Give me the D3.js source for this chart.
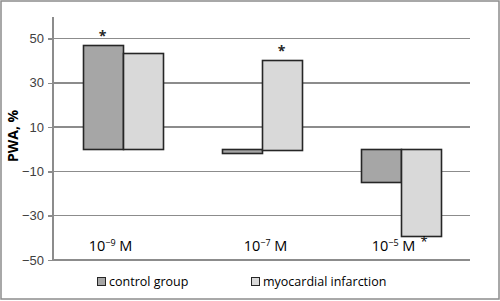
<!DOCTYPE html>
<html>
<meta charset="utf-8">
<style>

body {
  margin: 0;
  font-family: "Open Sans", sans-serif;
}

.grid line {
  stroke: #8c8c8c;
  stroke-width: 1.5px;
  shape-rendering: crispEdges;
}

.axis path,
.axis line {
  fill: none;
  stroke: #8c8c8c;
  stroke-width: 1.5px;
  shape-rendering: crispEdges;
}

.axis text {
  font-size: 13px;
  fill: #404040;
}

.bar {
  stroke: #262626;
  stroke-width: 1.6px;
}

</style>
<body>
<script src="https://d3js.org/d3.v7.min.js"></script>
<script>

var categories = ["10", "10", "10"],
    exponents = ["\u22129", "\u22127", "\u22125"],
    labelShift = [-12, 4, -7],
    series = ["control group", "myocardial infarction"],
    control = [47, -2, -15],
    infarction = [43.5, 40.5, -39.5],
    stars = [[0, 0], [1, 1]],
    yTicks = [-50, -30, -10, 10, 30, 50],
    colors = ["#a6a6a6", "#d9d9d9"];

var width = 500,
    height = 301,
    margin = {top: 38.5, right: 30, bottom: 41, left: 53};

var svg = d3.select("body").append("svg")
    .attr("width", width)
    .attr("height", height);

svg.append("rect")
    .attr("x", 1)
    .attr("y", 1)
    .attr("width", width - 2)
    .attr("height", height - 3)
    .attr("fill", "#fff")
    .attr("stroke", "#8c8c8c")
    .attr("stroke-width", 1.5);

var x = d3.scaleBand()
    .domain(d3.range(categories.length))
    .range([margin.left, width - margin.right]);

var x1 = d3.scaleBand()
    .domain(d3.range(series.length))
    .range([0, x.bandwidth()])
    .paddingOuter(0.74);

var y = d3.scaleLinear()
    .domain([-50, 50])
    .range([height - margin.bottom, margin.top]);

svg.append("g")
    .attr("class", "grid")
  .selectAll("line")
  .data(yTicks.slice(1))
  .join("line")
    .attr("x1", margin.left)
    .attr("x2", width - margin.right)
    .attr("y1", d => y(d))
    .attr("y2", d => y(d));

var yAxis = d3.axisLeft(y)
    .tickValues(yTicks)
    .tickSize(5)
    .tickPadding(4);

svg.append("g")
    .attr("class", "axis")
    .attr("transform", "translate(" + margin.left + ",0)")
    .call(yAxis)
    .call(g => g.select(".domain").attr("d", "M0," + (margin.top - 22) + "V" + y(-50)));

svg.append("line")
    .attr("x1", margin.left)
    .attr("x2", width - margin.right)
    .attr("y1", y(-50))
    .attr("y2", y(-50))
    .attr("stroke", "#8c8c8c")
    .attr("stroke-width", 1.5)
    .attr("shape-rendering", "crispEdges");

var data = [control, infarction];

svg.append("g")
  .selectAll("g")
  .data(data)
  .join("g")
    .attr("fill", (d, i) => colors[i])
    .each(function(vals, s) {
      d3.select(this).selectAll("rect")
        .data(vals)
        .join("rect")
          .attr("class", "bar")
          .attr("x", (d, i) => Math.round(x(i) + x1(s)) + 0.5)
          .attr("width", Math.round(x1.bandwidth()))
          .attr("y", d => Math.round(y(Math.max(0, d))) + 0.5)
          .attr("height", d => Math.round(Math.abs(y(d) - y(0))));
    });

svg.append("g")
  .selectAll("text")
  .data(stars)
  .join("text")
    .attr("x", d => x(d[0]) + x1(d[1]) + x1.bandwidth() / 2)
    .attr("y", d => y(data[d[1]][d[0]]) - 4)
    .attr("text-anchor", "middle")
    .attr("font-size", 14)
    .attr("font-weight", "bold")
    .attr("fill", "#262626")
    .text("*");

var labels = svg.append("g")
  .selectAll("text")
  .data(categories)
  .join("text")
    .attr("x", (d, i) => x(i) + x.bandwidth() / 2 + labelShift[i])
    .attr("y", 251)
    .attr("text-anchor", "middle")
    .attr("font-size", 14.5)
    .attr("fill", "#000");

labels.append("tspan").text(d => d);
labels.append("tspan")
    .attr("dy", -5)
    .attr("font-size", 9)
    .text((d, i) => exponents[i]);
labels.append("tspan")
    .attr("dy", 5)
    .text(" M");

// asterisk after the last dose label
svg.append("text")
    .attr("x", x(2) + x.bandwidth() / 2 + labelShift[2] + 27)
    .attr("y", 246)
    .attr("font-size", 13)
    .attr("fill", "#000")
    .text("*");

svg.append("text")
    .attr("transform", "translate(18," + 136 + ") rotate(-90)")
    .attr("text-anchor", "middle")
    .attr("font-size", 14)
    .attr("font-weight", "bold")
    .attr("fill", "#000")
    .text("PWA, %");

var legendX = [97, 251];

var legend = svg.append("g")
  .selectAll("g")
  .data(series)
  .join("g")
    .attr("transform", (d, i) => "translate(" + legendX[i] + ",277)");

legend.append("rect")
    .attr("x", 0.5)
    .attr("y", 0.5)
    .attr("width", 8)
    .attr("height", 8)
    .attr("fill", (d, i) => colors[i])
    .attr("stroke", "#262626")
    .attr("stroke-width", 1);

legend.append("text")
    .attr("x", 12)
    .attr("y", 9)
    .attr("font-size", 12.5)
    .attr("fill", "#000")
    .text(d => d);

</script>
</body>
</html>
